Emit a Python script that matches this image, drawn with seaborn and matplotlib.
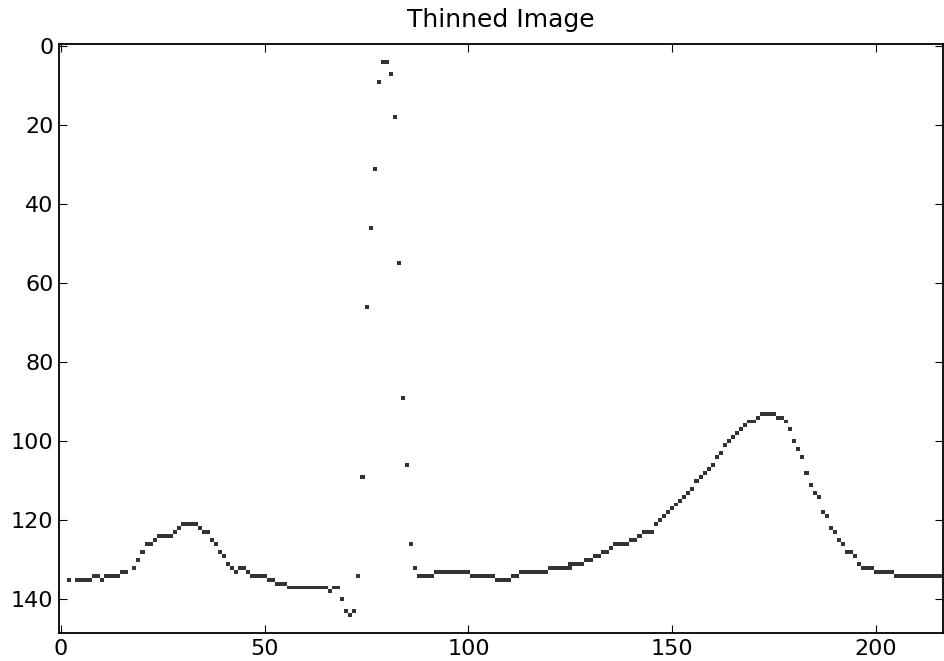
import numpy as np
import pandas as pd
import seaborn as sns
import matplotlib
matplotlib.use('Agg')
import matplotlib.pyplot as plt
from matplotlib.colors import ListedColormap

# image size (columns x rows)
img_width = 217
img_height = 149

# skeleton pixels, segment by segment
p_cols = [2, 4, 5, 6, 7, 8, 9, 10, 11, 12, 13, 14, 15, 16, 18, 19, 20, 21, 22, 23, 24, 25, 26,
          27, 28, 29, 30, 31, 32, 33, 34, 35, 36, 37, 38, 39, 40]
p_rows = [135, 135, 135, 135, 135, 134, 134, 135, 134, 134, 134, 134, 133, 133, 132, 130, 128, 126,
          126, 125, 124, 124, 124, 124, 123, 122, 121, 121, 121, 121, 122, 123, 123, 125, 126, 128, 129]

pr_cols = [41, 42, 43, 44, 45, 46, 47, 48, 49, 50, 51, 52, 53, 54, 55, 56, 57, 58, 59, 60, 61, 62,
           63, 64, 65, 66, 67, 68, 69, 70, 71, 72, 73]
pr_rows = [131, 132, 133, 132, 132, 133, 134, 134, 134, 134, 135, 135, 136, 136, 136, 137, 137, 137,
           137, 137, 137, 137, 137, 137, 137, 138, 137, 137, 140, 143, 144, 143, 134]

qrs_cols = [74, 75, 76, 77, 78, 79, 80, 81, 82, 83, 84, 85, 86, 87]
qrs_rows = [109, 66, 46, 31, 9, 4, 4, 7, 18, 55, 89, 106, 126, 132]

st_cols = [88, 89, 90, 91, 92, 93, 94, 95, 96, 97, 98, 99, 100, 101, 102, 103, 104, 105, 106, 107,
           108, 109, 110, 111, 112, 113, 114, 115, 116, 117, 118, 119, 120, 121, 122, 123, 124, 125,
           125, 126, 127, 128, 129, 130, 131, 132, 133, 134, 135, 136, 137, 138, 139, 140, 141, 142,
           143, 144, 145]
st_rows = [134, 134, 134, 134, 133, 133, 133, 133, 133, 133, 133, 133, 133, 134, 134, 134, 134, 134,
           134, 135, 135, 135, 135, 134, 134, 133, 133, 133, 133, 133, 133, 133, 132, 132, 132, 132,
           132, 131, 132, 131, 131, 131, 130, 130, 129, 129, 128, 128, 127, 126, 126, 126, 126, 125,
           125, 124, 123, 123, 123]

t_cols = [146, 147, 148, 149, 150, 151, 152, 153, 154, 155, 156, 157, 158, 159, 160, 161, 162, 163,
          164, 165, 166, 167, 168, 169, 170, 171, 172, 173, 174, 175, 176, 177, 178, 179, 180, 181,
          182, 183, 184, 185, 186, 187, 188, 189, 190, 191, 192, 193, 194, 195, 196, 197, 198, 199,
          200, 201, 202, 203, 204, 205, 206, 207, 208, 209, 210, 211, 212, 213, 214, 215, 216]
t_rows = [121, 120, 119, 118, 117, 116, 115, 114, 113, 112, 110, 109, 108, 107, 106, 104, 103, 101,
          100, 99, 98, 97, 96, 95, 95, 94, 93, 93, 93, 93, 94, 94, 95, 97, 100, 102,
          104, 108, 111, 113, 114, 118, 119, 122, 123, 125, 126, 128, 128, 129, 131, 132, 132, 132,
          133, 133, 133, 133, 133, 134, 134, 134, 134, 134, 134, 134, 134, 134, 134, 134, 134]

x_ticks = [0, 50, 100, 150, 200]
y_ticks = [0, 20, 40, 60, 80, 100, 120, 140]

cols = p_cols + pr_cols + qrs_cols + st_cols + t_cols
rows = p_rows + pr_rows + qrs_rows + st_rows + t_rows

img = np.zeros((img_height, img_width))
img[rows, cols] = 1

fig = plt.figure(figsize=(9.44, 6.61), dpi=100)
ax = fig.add_axes([0.0625, 0.0424, 0.9364, 0.891])
sns.heatmap(img, cmap=ListedColormap(['white', '#333333']), cbar=False,
            xticklabels=False, yticklabels=False, ax=ax)

# imshow-like ticks at pixel centres
ax.set_xticks(np.array(x_ticks) + 0.5, labels=[str(v) for v in x_ticks], rotation=0)
ax.set_yticks(np.array(y_ticks) + 0.5, labels=[str(v) for v in y_ticks], rotation=0)
ax.tick_params(direction='in', length=6, width=0.8, top=True, right=True,
               labelsize=16, pad=4, colors='black')

for s in ax.spines.values():
    s.set_visible(True)
    s.set_linewidth(1.3)
    s.set_color('black')

ax.set_title('Thinned Image', fontsize=18, pad=12)

fig.savefig('out.png', dpi=100)
